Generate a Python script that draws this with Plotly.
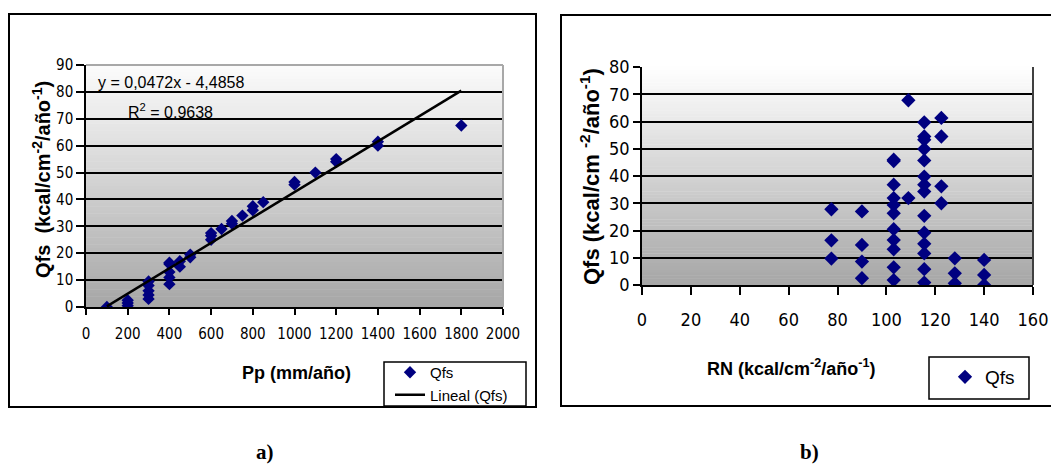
import plotly.graph_objects as go

W, H = 1051, 464

# ---------------- data: panel a) ----------------
pp_mm = [100, 200, 200, 200, 300, 300, 300, 300, 300, 400, 400, 400, 400, 400,
         450, 450, 500, 500, 600, 600, 600, 650, 700, 700, 750, 800, 800, 850,
         1000, 1000, 1100, 1200, 1200, 1400, 1400, 1800]
qfs_a = [0, 0.5, 1.5, 2.5, 3, 4.5, 6, 8, 9.5, 8.5, 11, 13, 16, 16.5,
         15, 17, 18.5, 19.5, 25, 26.5, 27.5, 29, 31, 32, 34, 36, 37.5, 39,
         45.5, 46.5, 50, 54, 55, 60, 61.5, 67.5]
trend_slope = 0.0472
trend_intercept = -4.4858
r_squared = 0.9638
x_ticks_a = [0, 200, 400, 600, 800, 1000, 1200, 1400, 1600, 1800, 2000]
y_ticks_a = [0, 10, 20, 30, 40, 50, 60, 70, 80, 90]

# ---------------- data: panel b) ----------------
rn = [77.5, 77.5, 77.5,
      90, 90, 90, 90,
      103, 103, 103, 103, 103, 103, 103, 103, 103, 103, 103,
      109, 109,
      115.5, 115.5, 115.5, 115.5, 115.5, 115.5, 115.5, 115.5, 115.5, 115.5, 115.5, 115.5, 115.5, 115.5,
      122.5, 122.5, 122.5, 122.5,
      128, 128, 128,
      140, 140, 140]
qfs_b = [27.8, 16.4, 9.7,
         27, 14.7, 8.6, 2.5,
         46, 45.5, 36.8, 31.9, 29.4, 26.3, 20.5, 16.5, 13.1, 6.5, 1.8,
         67.8, 31.9,
         59.7, 54.5, 53.3, 49.9, 45.7, 39.8, 36.8, 34.3, 25.4, 19.2, 15.1, 11.6, 5.8, 0.9,
         61.3, 54.5, 36.2, 30,
         9.8, 4.3, 0.6,
         9.2, 3.7, 0]
x_ticks_b = [0, 20, 40, 60, 80, 100, 120, 140, 160]
y_ticks_b = [0, 10, 20, 30, 40, 50, 60, 70, 80]

# ---------------- helpers ----------------
NARROW = "Liberation Sans Narrow, DejaVu Sans Condensed, Arial Narrow, Liberation Sans, sans-serif"
SANS = "Liberation Sans, Arial, Helvetica, sans-serif"
SERIF = "Liberation Serif, Times New Roman, serif"
NAVY = "#000080"


def PX(x):
    return x / W


def PY(y):
    return 1 - y / H


fig = go.Figure()

x_lo, x_hi = min(pp_mm), max(pp_mm)
trend_x = [x_lo, x_hi]
trend_y = [trend_slope * v + trend_intercept for v in trend_x]

fig.add_trace(go.Scatter(
    x=pp_mm, y=qfs_a, mode="markers", name="Qfs",
    marker=dict(symbol="diamond", size=9.5, color=NAVY, line=dict(width=0)),
    xaxis="x", yaxis="y", legend="legend", showlegend=True))
fig.add_trace(go.Scatter(
    x=trend_x, y=trend_y, mode="lines", name="Lineal (Qfs)",
    line=dict(color="black", width=2.5),
    xaxis="x", yaxis="y", legend="legend", showlegend=True))
fig.add_trace(go.Scatter(
    x=rn, y=qfs_b, mode="markers", name="Qfs",
    marker=dict(symbol="diamond", size=11, color=NAVY, line=dict(width=0)),
    xaxis="x2", yaxis="y2", legend="legend2", showlegend=True))

ax_a = dict(l=86, r=503, t=65, b=307)
ax_b = dict(l=642, r=1033, t=67, b=285)

base_axis = dict(zeroline=False, showline=True, linecolor="black",
                 linewidth=1.5, ticks="outside", tickcolor="black", tickwidth=1.5,
                 color="black")

fig.update_layout(
    width=W, height=H,
    margin=dict(l=0, r=0, t=0, b=0, autoexpand=False),
    paper_bgcolor="white", plot_bgcolor="rgba(0,0,0,0)",
    xaxis=dict(domain=[PX(ax_a["l"]), PX(ax_a["r"])], range=[0, 2000], showgrid=False,
               tickvals=x_ticks_a, ticklen=6, ticklabelstandoff=6,
               tickfont=dict(family=NARROW, size=15), anchor="y", **base_axis),
    yaxis=dict(domain=[PY(ax_a["b"]), PY(ax_a["t"])], range=[0, 90],
               tickvals=y_ticks_a, ticklen=8, showgrid=True, gridcolor="black", gridwidth=2,
               tickfont=dict(family=NARROW, size=15), anchor="x", **base_axis),
    xaxis2=dict(domain=[PX(ax_b["l"]), PX(ax_b["r"])], range=[0, 160], showgrid=False,
                tickvals=x_ticks_b, ticklen=8, ticklabelstandoff=10,
                tickfont=dict(family=NARROW, size=18), anchor="y2", **base_axis),
    yaxis2=dict(domain=[PY(ax_b["b"]), PY(ax_b["t"])], range=[0, 80],
                tickvals=y_ticks_b, ticklen=7, showgrid=True, gridcolor="black", gridwidth=2,
                tickfont=dict(family=NARROW, size=18), anchor="x2", **base_axis),
    legend=dict(x=PX(390), y=PY(356), xanchor="left", yanchor="top",
                bgcolor="rgba(0,0,0,0)", borderwidth=0,
                font=dict(family=SANS, size=15, color="black"),
                tracegroupgap=0),
    legend2=dict(x=PX(945), y=PY(358), xanchor="left", yanchor="top",
                 bgcolor="rgba(0,0,0,0)", borderwidth=0,
                 font=dict(family=SANS, size=19, color="black")),
    showlegend=True,
)

shapes = []
N = 70
for xr, yr, bottom, top in (("x domain", "y domain", 166, 252), ("x2 domain", "y2 domain", 166, 255)):
    for i in range(N):
        t = (i + 0.5) / N
        g = int(round(bottom + (top - bottom) * t))
        shapes.append(dict(type="rect", xref=xr, yref=yr, x0=0, x1=1,
                           y0=i / N, y1=(i + 1) / N + 0.002, fillcolor=f"rgb({g},{g},{g})",
                           line=dict(width=0), layer="below"))

# legend frames (white boxes)
shapes.append(dict(type="rect", xref="paper", yref="paper", x0=PX(384), x1=PX(526), y0=PY(406), y1=PY(362),
                   line=dict(color="black", width=1.5), fillcolor="white", layer="below"))
shapes.append(dict(type="rect", xref="paper", yref="paper", x0=PX(929), x1=PX(1029), y0=PY(399), y1=PY(357),
                   line=dict(color="black", width=1.5), fillcolor="white", layer="below"))

# plot-area borders
shapes.append(dict(type="line", xref="paper", yref="paper", x0=PX(ax_a["l"]), x1=PX(ax_a["r"]),
                   y0=PY(ax_a["t"]), y1=PY(ax_a["t"]), line=dict(color="#a8a8a8", width=2), layer="above"))
shapes.append(dict(type="line", xref="paper", yref="paper", x0=PX(ax_a["r"]), x1=PX(ax_a["r"]),
                   y0=PY(ax_a["b"]), y1=PY(ax_a["t"]), line=dict(color="#a8a8a8", width=2), layer="above"))
shapes.append(dict(type="line", xref="paper", yref="paper", x0=PX(ax_b["r"]), x1=PX(ax_b["r"]),
                   y0=PY(ax_b["b"]), y1=PY(ax_b["t"]), line=dict(color="#404040", width=2), layer="above"))

# outer frames of the two panels
shapes.append(dict(type="rect", xref="paper", yref="paper", x0=PX(9), x1=PX(536), y0=PY(407), y1=PY(14),
                   line=dict(color="black", width=2), layer="above"))
shapes.append(dict(type="rect", xref="paper", yref="paper", x0=PX(561), x1=PX(1060), y0=PY(406), y1=PY(15),
                   line=dict(color="black", width=2), layer="above"))
fig.update_layout(shapes=shapes)

eq_text = f"y = {trend_slope:.4f}x - {abs(trend_intercept):.4f}".replace(".", ",")
r2_text = f"R<sup>2</sup> = {r_squared:.4f}".replace(".", ",")

ann = [
    dict(text=eq_text, x=PX(96), y=PY(82), xanchor="left", yanchor="middle",
         font=dict(family=SANS, size=16, color="black")),
    dict(text=r2_text, x=PX(126), y=PY(111), xanchor="left", yanchor="middle",
         font=dict(family=SANS, size=16, color="black")),
    dict(text="<b>Qfs  (kcal/cm<sup>-2</sup>/año<sup>-1</sup>)</b>", x=PX(41), y=PY(180),
         textangle=-90, xanchor="center", yanchor="middle",
         font=dict(family=SANS, size=20, color="black")),
    dict(text="<b>Pp (mm/año)</b>", x=PX(296), y=PY(373), xanchor="center", yanchor="middle",
         font=dict(family=SANS, size=18, color="black")),
    dict(text="<b>Qfs (kcal/cm <sup>-2</sup>/año<sup>-1</sup>)</b>", x=PX(590), y=PY(177),
         textangle=-90, xanchor="center", yanchor="middle",
         font=dict(family=SANS, size=22, color="black")),
    dict(text="<b>RN (kcal/cm<sup>-2</sup>/año<sup>-1</sup>)</b>", x=PX(791), y=PY(367),
         xanchor="center", yanchor="middle",
         font=dict(family=SANS, size=18, color="black")),
    dict(text="<b>a)</b>", x=PX(265), y=PY(452), xanchor="center", yanchor="middle",
         font=dict(family=SERIF, size=21, color="black")),
    dict(text="<b>b)</b>", x=PX(809), y=PY(452), xanchor="center", yanchor="middle",
         font=dict(family=SERIF, size=21, color="black")),
]
for a in ann:
    a.update(xref="paper", yref="paper", showarrow=False)
fig.update_layout(annotations=ann)

fig.write_html("out.html", config={"displayModeBar": False},
               post_script="document.body.style.margin='0';")
